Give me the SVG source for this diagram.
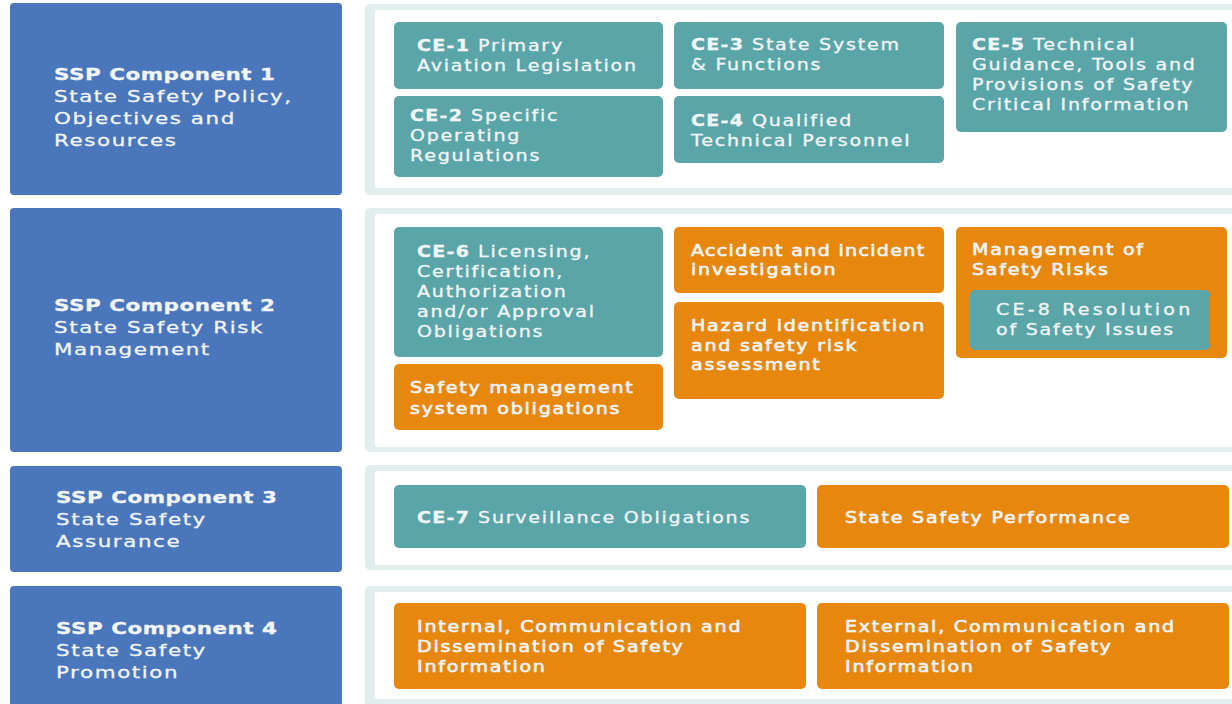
<svg xmlns="http://www.w3.org/2000/svg" width="1232" height="704" viewBox="0 0 1232 704">
<style>
.comp{fill:#4a76bc}
.pout{fill:#e2eeee}
.pin{fill:#ffffff}
.teal{fill:#5aa5a7}
.orange{fill:#e7870e}
text{font-family:"DejaVu Sans","Liberation Sans",sans-serif;fill:#f2f5f8;stroke:#f2f5f8;stroke-width:0.3}
.ct{font-size:16.5px;letter-spacing:1.2px}
.bt{font-size:15px;letter-spacing:1.4px}
.h{font-weight:bold;letter-spacing:0.4px}
.bt .h{letter-spacing:1px}
.o{stroke-width:0.6}
</style>
<rect width="1232" height="704" fill="#ffffff"/>
<g id="row1">
  <g id="comp1"><rect class="comp" x="10" y="3" width="332" height="192" rx="4"/>
    <text class="ct" transform="matrix(1.3 0 0 1 54 0)"><tspan class="h" x="0" y="80">SSP Component 1</tspan><tspan x="0" y="102">State Safety Policy,</tspan><tspan x="0" y="124">Objectives and</tspan><tspan x="0" y="146">Resources</tspan></text></g>
  <g id="panel1"><rect class="pout" x="365" y="4" width="900" height="191" rx="5"/><rect class="pin" x="375" y="10" width="900" height="178" rx="2"/></g>
  <g id="ce1"><rect class="teal" x="394" y="22" width="269" height="67" rx="5"/>
    <text class="bt" transform="matrix(1.27 0 0 1 417 0)"><tspan class="h" x="0" y="51">CE-1</tspan> Primary<tspan x="0" y="71">Aviation Legislation</tspan></text></g>
  <g id="ce2"><rect class="teal" x="394" y="96" width="269" height="81" rx="5"/>
    <text class="bt" transform="matrix(1.27 0 0 1 410 0)"><tspan class="h" x="0" y="121">CE-2</tspan> Specific<tspan x="0" y="141">Operating</tspan><tspan x="0" y="161">Regulations</tspan></text></g>
  <g id="ce3"><rect class="teal" x="674" y="22" width="270" height="67" rx="5"/>
    <text class="bt" transform="matrix(1.27 0 0 1 691 0)"><tspan class="h" x="0" y="50">CE-3</tspan> State System<tspan x="0" y="70">&amp; Functions</tspan></text></g>
  <g id="ce4"><rect class="teal" x="674" y="96" width="270" height="67" rx="5"/>
    <text class="bt" transform="matrix(1.27 0 0 1 691 0)"><tspan class="h" x="0" y="126">CE-4</tspan> Qualified<tspan x="0" y="146">Technical Personnel</tspan></text></g>
  <g id="ce5"><rect class="teal" x="956" y="22" width="271" height="110" rx="5"/>
    <text class="bt" transform="matrix(1.27 0 0 1 972 0)"><tspan class="h" x="0" y="50">CE-5</tspan> Technical<tspan x="0" y="70">Guidance, Tools and</tspan><tspan x="0" y="90">Provisions of Safety</tspan><tspan x="0" y="110">Critical Information</tspan></text></g>
</g>
<g id="row2">
  <g id="comp2"><rect class="comp" x="10" y="208" width="332" height="244" rx="4"/>
    <text class="ct" transform="matrix(1.3 0 0 1 54 0)"><tspan class="h" x="0" y="311">SSP Component 2</tspan><tspan x="0" y="333">State Safety Risk</tspan><tspan x="0" y="355">Management</tspan></text></g>
  <g id="panel2"><rect class="pout" x="365" y="208" width="900" height="244" rx="5"/><rect class="pin" x="375" y="214" width="900" height="233" rx="2"/></g>
  <g id="ce6"><rect class="teal" x="394" y="227" width="269" height="130" rx="5"/>
    <text class="bt" transform="matrix(1.27 0 0 1 417 0)"><tspan class="h" x="0" y="257">CE-6</tspan> Licensing,<tspan x="0" y="277">Certification,</tspan><tspan x="0" y="297">Authorization</tspan><tspan x="0" y="317">and/or Approval</tspan><tspan x="0" y="337">Obligations</tspan></text></g>
  <g id="sms"><rect class="orange" x="394" y="364" width="269" height="66" rx="5"/>
    <text class="bt o" transform="matrix(1.27 0 0 1 410 0)"><tspan x="0" y="393">Safety management</tspan><tspan x="0" y="414">system obligations</tspan></text></g>
  <g id="accident"><rect class="orange" x="674" y="227" width="270" height="66" rx="5"/>
    <text class="bt o" transform="matrix(1.27 0 0 1 691 0)"><tspan x="0" y="256" letter-spacing="1.05">Accident and incident</tspan><tspan x="0" y="275">investigation</tspan></text></g>
  <g id="hazard"><rect class="orange" x="674" y="302" width="270" height="97" rx="5"/>
    <text class="bt o" transform="matrix(1.27 0 0 1 691 0)"><tspan x="0" y="331">Hazard identification</tspan><tspan x="0" y="351">and safety risk</tspan><tspan x="0" y="370">assessment</tspan></text></g>
  <g id="msr"><rect class="orange" x="956" y="227" width="271" height="131" rx="5"/>
    <text class="bt o" transform="matrix(1.27 0 0 1 972 0)"><tspan x="0" y="255">Management of</tspan><tspan x="0" y="275">Safety Risks</tspan></text>
    <g id="ce8"><rect class="teal" x="970" y="290" width="240" height="60" rx="5"/>
    <text class="bt" transform="matrix(1.27 0 0 1 996 0)"><tspan x="0" y="315" letter-spacing="2.5">CE-8 Resolution</tspan><tspan x="0" y="335">of Safety Issues</tspan></text></g></g>
</g>
<g id="row3">
  <g id="comp3"><rect class="comp" x="10" y="466" width="332" height="106" rx="4"/>
    <text class="ct" transform="matrix(1.3 0 0 1 56 0)"><tspan class="h" x="0" y="503">SSP Component 3</tspan><tspan x="0" y="525">State Safety</tspan><tspan x="0" y="547">Assurance</tspan></text></g>
  <g id="panel3"><rect class="pout" x="365" y="465" width="900" height="105" rx="5"/><rect class="pin" x="375" y="471" width="900" height="94" rx="2"/></g>
  <g id="ce7"><rect class="teal" x="394" y="485" width="412" height="63" rx="5"/>
    <text class="bt" transform="matrix(1.27 0 0 1 417 0)"><tspan class="h" x="0" y="523">CE-7</tspan> Surveillance Obligations</text></g>
  <g id="ssperf"><rect class="orange" x="817" y="485" width="412" height="63" rx="5"/>
    <text class="bt o" transform="matrix(1.27 0 0 1 845 0)" x="0" y="523">State Safety Performance</text></g>
</g>
<g id="row4">
  <g id="comp4"><rect class="comp" x="10" y="586" width="332" height="130" rx="4"/>
    <text class="ct" transform="matrix(1.3 0 0 1 56 0)"><tspan class="h" x="0" y="634">SSP Component 4</tspan><tspan x="0" y="656">State Safety</tspan><tspan x="0" y="678">Promotion</tspan></text></g>
  <g id="panel4"><rect class="pout" x="365" y="586" width="900" height="130" rx="5"/><rect class="pin" x="375" y="592" width="900" height="107" rx="2"/></g>
  <g id="internal"><rect class="orange" x="394" y="603" width="412" height="86" rx="5"/>
    <text class="bt o" transform="matrix(1.27 0 0 1 417 0)"><tspan x="0" y="632">Internal, Communication and</tspan><tspan x="0" y="652">Dissemination of Safety</tspan><tspan x="0" y="672">Information</tspan></text></g>
  <g id="external"><rect class="orange" x="817" y="603" width="412" height="86" rx="5"/>
    <text class="bt o" transform="matrix(1.27 0 0 1 845 0)"><tspan x="0" y="632">External, Communication and</tspan><tspan x="0" y="652">Dissemination of Safety</tspan><tspan x="0" y="672">Information</tspan></text></g>
</g>
<g id="connectors"/>
</svg>
